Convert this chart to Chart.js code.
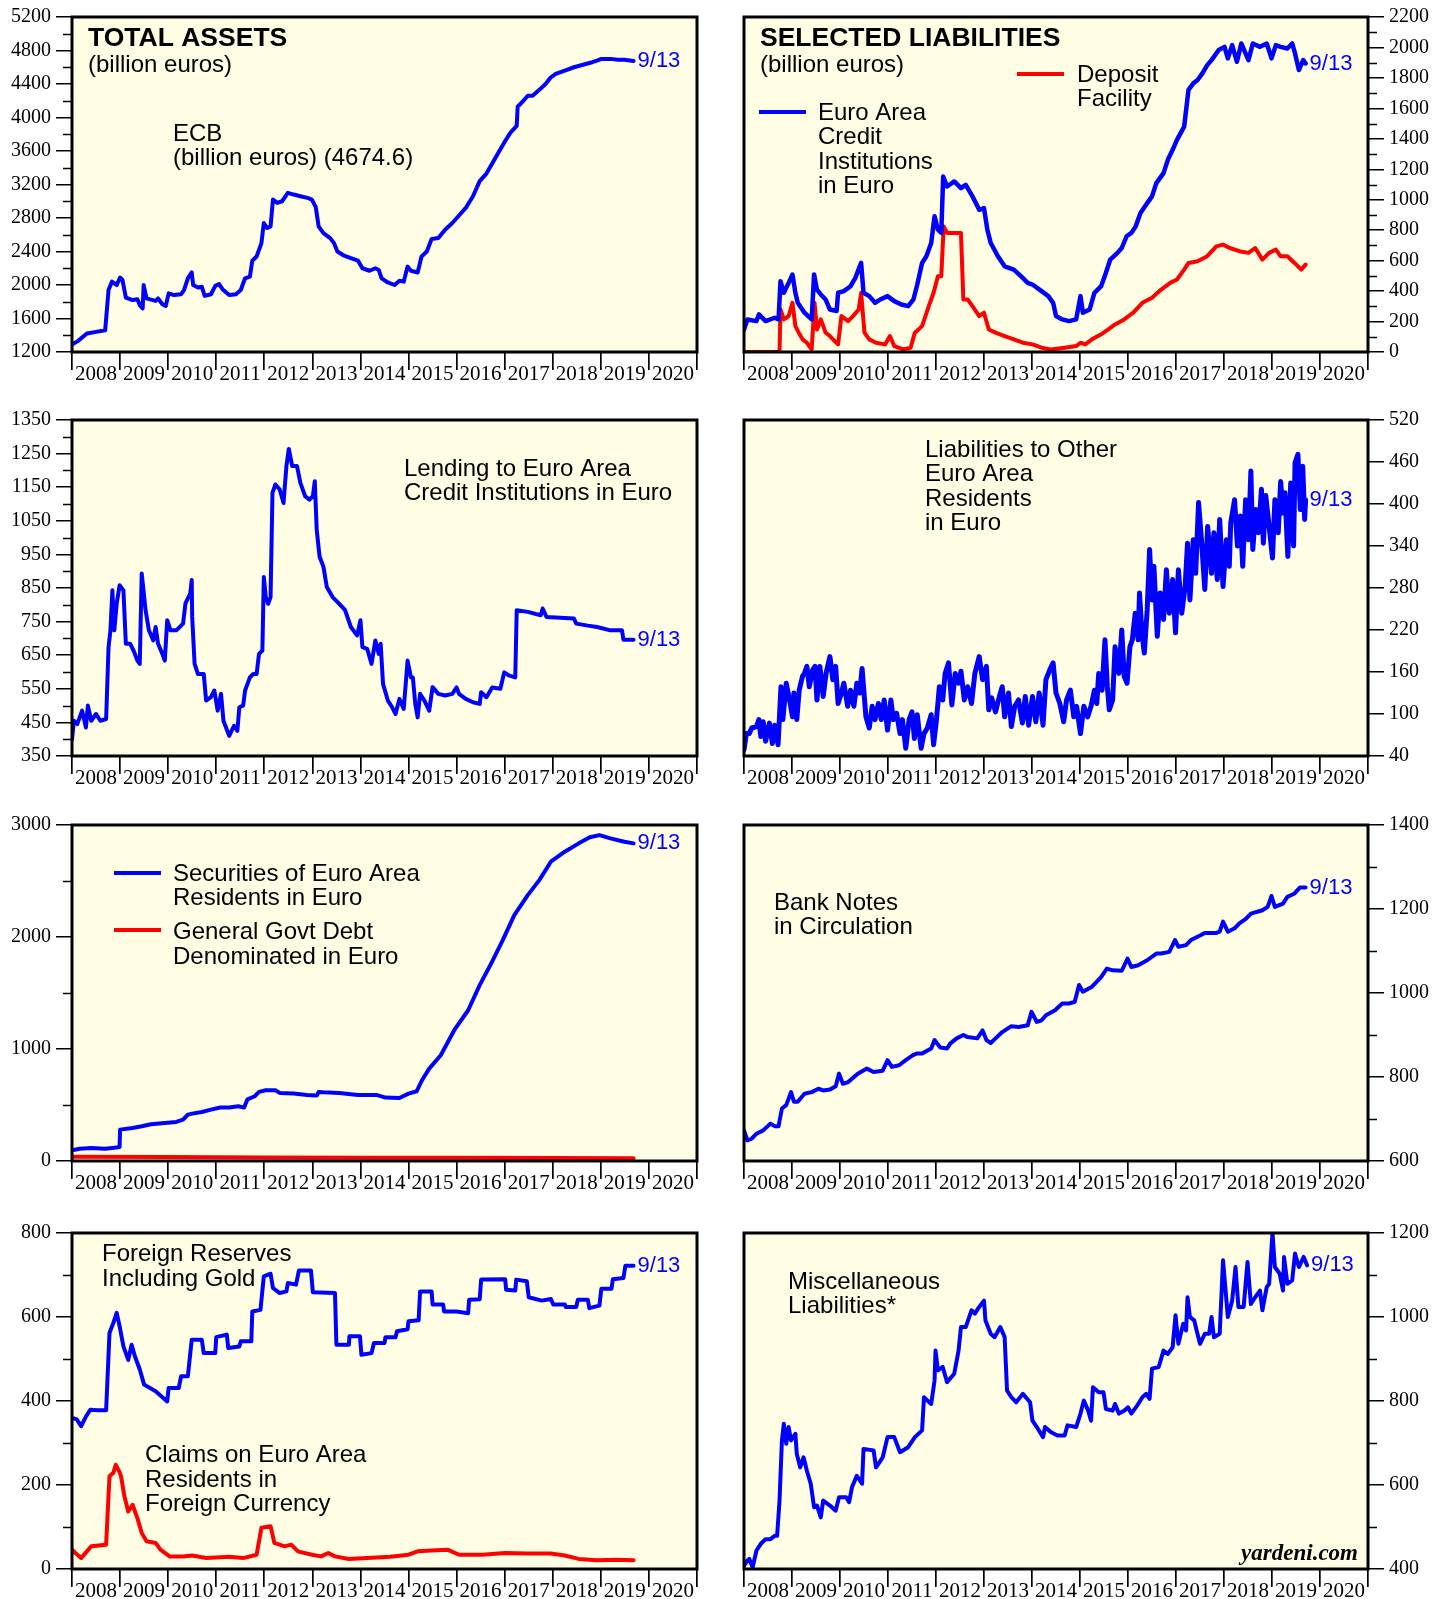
<!DOCTYPE html>
<html><head><meta charset="utf-8">
<script src="https://cdn.jsdelivr.net/npm/chart.js@4.4.1/dist/chart.umd.min.js"></script>
<style>
html,body{margin:0;padding:0;background:#fff;}
body{width:1450px;height:1599px;position:relative;overflow:hidden;}
.w{position:absolute;}
canvas{display:block;}
</style></head><body>
<div class="w" style="left:0;top:0"><canvas id="c1" width="725" height="395"></canvas></div>
<div class="w" style="left:725px;top:0"><canvas id="c2" width="725" height="395"></canvas></div>
<div class="w" style="left:0;top:395px"><canvas id="c3" width="725" height="400"></canvas></div>
<div class="w" style="left:725px;top:395px"><canvas id="c4" width="725" height="400"></canvas></div>
<div class="w" style="left:0;top:795px"><canvas id="c5" width="725" height="405"></canvas></div>
<div class="w" style="left:725px;top:795px"><canvas id="c6" width="725" height="405"></canvas></div>
<div class="w" style="left:0;top:1200px"><canvas id="c7" width="725" height="399"></canvas></div>
<div class="w" style="left:725px;top:1200px"><canvas id="c8" width="725" height="399"></canvas></div>
<script>
// ---------- tick labels ----------
const xTickYears = [2008,2009,2010,2011,2012,2013,2014,2015,2016,2017,2018,2019,2020,2021];
const yearLabels = ['2008','2009','2010','2011','2012','2013','2014','2015','2016','2017','2018','2019','2020'];
const ticksAssets = [1200,1600,2000,2400,2800,3200,3600,4000,4400,4800,5200];
const ticksLiab = [0,200,400,600,800,1000,1200,1400,1600,1800,2000,2200];
const ticksLending = [350,450,550,650,750,850,950,1050,1150,1250,1350];
const ticksOther = [40,100,160,220,280,340,400,460,520];
const ticksSecur = [0,1000,2000,3000];
const ticksNotes = [600,800,1000,1200,1400];
const ticksReserves = [0,200,400,600,800];
const ticksMisc = [400,600,800,1000,1200];
const lastDateLabel = '9/13';

// ---------- series: [decimal year, billion euros] ----------
const totalAssets = [[2008.00,1290],[2008.12,1330],[2008.31,1420],[2008.50,1440],[2008.69,1460],[2008.76,1940],[2008.83,2040],[2008.93,2000],[2009.00,2090],[2009.05,2060],[2009.12,1850],[2009.26,1820],[2009.36,1830],[2009.41,1760],[2009.47,1720],[2009.49,2000],[2009.55,1840],[2009.74,1810],[2009.79,1840],[2009.88,1770],[2009.95,1750],[2010.01,1900],[2010.12,1880],[2010.27,1890],[2010.33,1940],[2010.41,2080],[2010.49,2150],[2010.52,2000],[2010.62,1970],[2010.70,1980],[2010.76,1870],[2010.89,1890],[2010.98,1990],[2011.06,2010],[2011.13,1950],[2011.27,1880],[2011.41,1890],[2011.51,1940],[2011.60,2080],[2011.70,2100],[2011.75,2290],[2011.84,2340],[2011.94,2500],[2011.99,2740],[2012.06,2680],[2012.13,2700],[2012.18,3020],[2012.27,2980],[2012.37,3000],[2012.49,3100],[2012.61,3080],[2012.75,3060],[2012.90,3040],[2012.99,3020],[2013.07,2930],[2013.13,2700],[2013.23,2620],[2013.37,2560],[2013.45,2500],[2013.52,2400],[2013.66,2350],[2013.80,2320],[2013.95,2290],[2014.04,2200],[2014.19,2170],[2014.31,2200],[2014.38,2180],[2014.44,2080],[2014.57,2030],[2014.71,2000],[2014.81,2050],[2014.90,2040],[2014.98,2220],[2015.05,2170],[2015.19,2150],[2015.27,2340],[2015.38,2400],[2015.48,2550],[2015.62,2560],[2015.76,2660],[2015.91,2740],[2016.05,2830],[2016.19,2920],[2016.34,3060],[2016.48,3240],[2016.62,3330],[2016.77,3480],[2016.91,3620],[2017.01,3720],[2017.12,3820],[2017.25,3900],[2017.27,4130],[2017.39,4200],[2017.48,4260],[2017.58,4260],[2017.72,4330],[2017.85,4400],[2017.96,4480],[2018.06,4520],[2018.25,4560],[2018.44,4600],[2018.63,4630],[2018.82,4660],[2018.92,4680],[2019.01,4700],[2019.21,4700],[2019.35,4690],[2019.49,4690],[2019.68,4675]];

const creditInstLiab = [[2008.00,148],[2008.07,214],[2008.26,203],[2008.31,247],[2008.45,203],[2008.64,225],[2008.72,214],[2008.76,465],[2008.83,389],[2008.93,454],[2009.01,509],[2009.07,389],[2009.12,323],[2009.26,258],[2009.41,214],[2009.46,509],[2009.52,410],[2009.60,378],[2009.70,345],[2009.79,279],[2009.93,269],[2009.96,389],[2010.08,400],[2010.22,432],[2010.32,487],[2010.44,585],[2010.49,389],[2010.61,367],[2010.73,323],[2010.84,345],[2010.99,367],[2011.13,334],[2011.28,312],[2011.42,301],[2011.53,345],[2011.61,443],[2011.71,585],[2011.80,629],[2011.90,716],[2011.97,891],[2012.04,803],[2012.11,782],[2012.15,1153],[2012.23,1087],[2012.38,1120],[2012.52,1076],[2012.62,1098],[2012.76,1022],[2012.90,934],[2013.00,945],[2013.07,803],[2013.14,716],[2013.29,629],[2013.43,563],[2013.62,541],[2013.77,498],[2013.91,454],[2014.01,443],[2014.20,400],[2014.34,367],[2014.44,323],[2014.50,236],[2014.63,214],[2014.77,203],[2014.92,214],[2015.01,367],[2015.06,258],[2015.20,279],[2015.30,389],[2015.44,432],[2015.54,520],[2015.63,607],[2015.78,651],[2015.87,683],[2015.97,760],[2016.07,782],[2016.16,825],[2016.26,913],[2016.40,978],[2016.50,1022],[2016.59,1109],[2016.74,1175],[2016.83,1262],[2016.93,1328],[2017.02,1393],[2017.17,1480],[2017.26,1721],[2017.36,1764],[2017.45,1786],[2017.55,1830],[2017.65,1884],[2017.74,1917],[2017.89,1983],[2018.01,2004],[2018.08,1928],[2018.17,2015],[2018.27,1906],[2018.36,2026],[2018.51,1917],[2018.60,2026],[2018.75,2004],[2018.89,2026],[2018.99,1928],[2019.08,2015],[2019.18,2004],[2019.32,1993],[2019.42,2026],[2019.48,1961],[2019.56,1852],[2019.65,1917],[2019.70,1895]];

const depositFacility = [[2008.00,0],[2008.74,0],[2008.76,279],[2008.83,214],[2008.93,236],[2009.01,323],[2009.07,170],[2009.14,127],[2009.22,83],[2009.31,61],[2009.41,17],[2009.47,323],[2009.52,148],[2009.60,214],[2009.70,127],[2009.79,105],[2009.89,72],[2009.96,50],[2010.03,236],[2010.17,203],[2010.27,236],[2010.39,279],[2010.44,389],[2010.51,127],[2010.61,83],[2010.75,61],[2010.94,50],[2011.04,105],[2011.13,39],[2011.32,17],[2011.47,28],[2011.56,127],[2011.71,170],[2011.85,301],[2011.95,389],[2012.04,498],[2012.11,498],[2012.16,825],[2012.23,782],[2012.38,782],[2012.52,782],[2012.57,345],[2012.66,345],[2012.76,301],[2012.90,236],[2013.00,258],[2013.10,148],[2013.24,127],[2013.43,105],[2013.62,83],[2013.81,61],[2014.01,50],[2014.20,28],[2014.39,17],[2014.68,28],[2014.92,39],[2015.01,61],[2015.11,50],[2015.25,83],[2015.44,116],[2015.59,148],[2015.73,181],[2015.92,214],[2016.11,258],[2016.30,323],[2016.50,356],[2016.69,410],[2016.88,454],[2017.02,476],[2017.17,541],[2017.26,585],[2017.45,596],[2017.65,629],[2017.84,694],[2017.98,705],[2018.12,683],[2018.32,662],[2018.51,651],[2018.65,683],[2018.80,607],[2018.94,651],[2019.08,672],[2019.18,629],[2019.32,629],[2019.47,585],[2019.61,541],[2019.70,574]];

const lendingCredit = [[2008.00,400],[2008.04,455],[2008.11,445],[2008.21,485],[2008.29,435],[2008.33,500],[2008.40,455],[2008.50,475],[2008.59,455],[2008.71,460],[2008.76,674],[2008.80,724],[2008.84,843],[2008.88,724],[2008.93,804],[2008.99,858],[2009.07,843],[2009.12,684],[2009.21,684],[2009.28,664],[2009.36,634],[2009.41,624],[2009.45,893],[2009.53,784],[2009.60,724],[2009.69,694],[2009.74,734],[2009.79,684],[2009.88,654],[2009.93,634],[2009.98,754],[2010.05,724],[2010.17,724],[2010.31,744],[2010.36,804],[2010.46,834],[2010.49,874],[2010.50,764],[2010.55,624],[2010.62,594],[2010.74,594],[2010.79,515],[2010.89,525],[2010.96,545],[2011.03,485],[2011.10,535],[2011.15,455],[2011.27,410],[2011.37,440],[2011.44,425],[2011.48,495],[2011.56,500],[2011.60,545],[2011.70,584],[2011.77,594],[2011.84,594],[2011.89,654],[2011.96,664],[2011.99,883],[2012.03,823],[2012.08,803],[2012.13,823],[2012.17,1133],[2012.23,1158],[2012.32,1143],[2012.40,1103],[2012.46,1213],[2012.51,1264],[2012.58,1213],[2012.68,1213],[2012.75,1163],[2012.85,1123],[2012.94,1113],[2013.01,1123],[2013.05,1168],[2013.09,1023],[2013.15,943],[2013.23,913],[2013.30,853],[2013.42,823],[2013.56,803],[2013.68,784],[2013.80,734],[2013.93,709],[2014.00,754],[2014.04,674],[2014.14,669],[2014.23,624],[2014.31,694],[2014.38,654],[2014.42,684],[2014.47,564],[2014.57,515],[2014.66,495],[2014.73,475],[2014.81,520],[2014.90,490],[2014.98,634],[2015.05,584],[2015.09,584],[2015.14,505],[2015.19,465],[2015.24,535],[2015.33,515],[2015.43,485],[2015.50,555],[2015.62,535],[2015.76,530],[2015.91,535],[2016.00,554],[2016.05,535],[2016.19,520],[2016.34,510],[2016.48,505],[2016.51,540],[2016.62,525],[2016.74,554],[2016.91,550],[2016.99,599],[2017.10,589],[2017.22,584],[2017.25,784],[2017.48,779],[2017.75,769],[2017.79,789],[2017.87,764],[2018.06,762],[2018.44,759],[2018.49,744],[2018.73,738],[2018.92,734],[2019.20,724],[2019.44,724],[2019.47,696],[2019.68,696]];

const otherResidents = [[2008.00,49],[2008.05,72],[2008.11,72],[2008.16,80],[2008.26,82],[2008.31,92],[2008.35,68],[2008.40,89],[2008.45,61],[2008.53,87],[2008.59,58],[2008.64,84],[2008.71,56],[2008.77,139],[2008.81,92],[2008.88,144],[2008.95,120],[2009.01,96],[2009.04,130],[2009.10,92],[2009.15,134],[2009.22,154],[2009.26,158],[2009.31,168],[2009.36,139],[2009.43,163],[2009.48,168],[2009.52,120],[2009.58,168],[2009.65,125],[2009.71,158],[2009.79,182],[2009.85,149],[2009.91,168],[2009.96,115],[2010.03,130],[2010.08,144],[2010.16,111],[2010.22,134],[2010.29,111],[2010.35,144],[2010.41,130],[2010.46,165],[2010.54,96],[2010.61,80],[2010.67,111],[2010.73,92],[2010.80,115],[2010.86,92],[2010.92,120],[2010.99,77],[2011.06,120],[2011.11,92],[2011.18,101],[2011.25,72],[2011.30,92],[2011.37,51],[2011.44,92],[2011.50,103],[2011.55,65],[2011.61,99],[2011.69,51],[2011.75,72],[2011.82,80],[2011.90,99],[2011.95,56],[2012.01,92],[2012.07,139],[2012.14,120],[2012.19,158],[2012.26,173],[2012.33,113],[2012.40,158],[2012.47,144],[2012.52,161],[2012.59,120],[2012.66,139],[2012.74,115],[2012.81,158],[2012.90,182],[2012.97,149],[2013.05,168],[2013.10,106],[2013.16,123],[2013.24,103],[2013.32,125],[2013.38,139],[2013.43,96],[2013.51,130],[2013.57,82],[2013.64,111],[2013.72,120],[2013.80,87],[2013.86,125],[2013.93,84],[2014.01,125],[2014.08,89],[2014.15,130],[2014.23,84],[2014.29,149],[2014.37,163],[2014.44,173],[2014.50,130],[2014.58,115],[2014.66,89],[2014.72,120],[2014.80,134],[2014.87,96],[2014.93,111],[2015.01,72],[2015.08,111],[2015.16,96],[2015.23,111],[2015.30,134],[2015.35,115],[2015.39,158],[2015.46,134],[2015.52,206],[2015.57,139],[2015.61,106],[2015.68,120],[2015.73,196],[2015.81,158],[2015.87,220],[2015.92,154],[2015.98,144],[2016.04,196],[2016.09,206],[2016.15,244],[2016.21,206],[2016.24,273],[2016.29,216],[2016.34,187],[2016.40,249],[2016.45,335],[2016.50,263],[2016.54,311],[2016.61,211],[2016.67,273],[2016.74,235],[2016.80,306],[2016.86,244],[2016.93,292],[2016.99,216],[2017.05,306],[2017.12,244],[2017.19,282],[2017.24,344],[2017.29,263],[2017.36,349],[2017.41,301],[2017.47,402],[2017.53,349],[2017.60,278],[2017.66,368],[2017.74,301],[2017.79,359],[2017.86,292],[2017.91,378],[2017.98,282],[2018.05,349],[2018.11,311],[2018.14,373],[2018.22,406],[2018.28,340],[2018.34,383],[2018.39,311],[2018.45,406],[2018.51,349],[2018.56,447],[2018.60,335],[2018.66,392],[2018.72,359],[2018.78,421],[2018.82,344],[2018.87,412],[2018.94,368],[2019.01,323],[2019.06,406],[2019.13,359],[2019.18,432],[2019.23,387],[2019.27,416],[2019.33,325],[2019.39,430],[2019.45,340],[2019.48,459],[2019.54,471],[2019.59,392],[2019.64,454],[2019.68,378],[2019.70,406]];

const securitiesEuro = [[2008.00,95],[2008.16,110],[2008.40,116],[2008.69,110],[2008.88,119],[2008.99,125],[2009.00,280],[2009.26,295],[2009.45,310],[2009.64,328],[2009.93,340],[2010.17,349],[2010.31,369],[2010.41,414],[2010.50,423],[2010.70,438],[2010.89,459],[2011.08,477],[2011.27,477],[2011.46,489],[2011.58,477],[2011.65,551],[2011.80,578],[2011.89,617],[2012.03,632],[2012.23,632],[2012.32,608],[2012.61,602],[2012.89,590],[2013.09,584],[2013.13,617],[2013.23,614],[2013.56,608],[2013.95,590],[2014.33,590],[2014.52,566],[2014.81,563],[2015.00,602],[2015.17,623],[2015.28,721],[2015.43,825],[2015.67,944],[2015.95,1168],[2016.24,1346],[2016.48,1570],[2016.72,1764],[2016.96,1972],[2017.20,2196],[2017.48,2374],[2017.72,2508],[2017.96,2672],[2018.25,2762],[2018.54,2836],[2018.77,2890],[2018.97,2910],[2019.20,2881],[2019.49,2851],[2019.68,2836]];

const govtDebt = [[2008.00,38],[2010.00,35],[2012.00,32],[2014.00,30],[2016.00,28],[2018.00,26],[2019.68,25]];

const bankNotes = [[2008.00,673],[2008.07,649],[2008.16,653],[2008.26,665],[2008.40,673],[2008.55,689],[2008.64,683],[2008.72,683],[2008.79,725],[2008.88,733],[2008.98,764],[2009.04,741],[2009.12,741],[2009.26,760],[2009.41,764],[2009.55,772],[2009.65,768],[2009.79,770],[2009.91,778],[2009.98,808],[2010.06,784],[2010.17,788],[2010.37,808],[2010.56,820],[2010.70,812],[2010.89,815],[2010.99,840],[2011.08,824],[2011.23,828],[2011.37,840],[2011.52,852],[2011.61,856],[2011.71,856],[2011.90,868],[2011.97,888],[2012.09,870],[2012.23,868],[2012.30,880],[2012.43,892],[2012.57,900],[2012.66,895],[2012.86,892],[2012.97,911],[2013.05,888],[2013.14,881],[2013.24,892],[2013.38,907],[2013.57,921],[2013.72,919],[2013.91,923],[2013.99,955],[2014.10,931],[2014.20,935],[2014.29,947],[2014.48,959],[2014.63,975],[2014.77,975],[2014.89,979],[2014.98,1019],[2015.06,1003],[2015.25,1015],[2015.35,1027],[2015.44,1038],[2015.56,1058],[2015.68,1054],[2015.87,1053],[2015.99,1082],[2016.07,1062],[2016.21,1066],[2016.40,1078],[2016.59,1094],[2016.69,1094],[2016.86,1098],[2016.98,1126],[2017.05,1110],[2017.21,1114],[2017.31,1126],[2017.45,1134],[2017.60,1143],[2017.84,1143],[2017.91,1146],[2017.98,1170],[2018.08,1146],[2018.22,1154],[2018.32,1166],[2018.46,1177],[2018.56,1189],[2018.80,1197],[2018.91,1205],[2018.99,1231],[2019.06,1205],[2019.23,1213],[2019.32,1229],[2019.47,1237],[2019.58,1251],[2019.70,1251]];

const foreignReserves = [[2008.00,360],[2008.10,356],[2008.19,340],[2008.29,363],[2008.38,379],[2008.54,378],[2008.71,378],[2008.78,562],[2008.86,586],[2008.93,610],[2008.99,578],[2009.07,530],[2009.17,498],[2009.24,534],[2009.31,506],[2009.41,475],[2009.50,439],[2009.74,423],[2009.98,399],[2010.01,431],[2010.22,431],[2010.27,459],[2010.41,459],[2010.49,546],[2010.70,546],[2010.74,514],[2010.98,514],[2011.00,552],[2011.22,558],[2011.25,526],[2011.48,530],[2011.51,542],[2011.73,542],[2011.75,613],[2011.92,617],[2011.99,697],[2012.13,703],[2012.18,669],[2012.32,657],[2012.46,661],[2012.49,681],[2012.66,677],[2012.72,711],[2012.97,711],[2013.01,659],[2013.47,657],[2013.50,534],[2013.76,534],[2013.77,554],[2013.99,554],[2014.02,510],[2014.23,514],[2014.28,538],[2014.50,538],[2014.52,552],[2014.73,552],[2014.76,566],[2014.98,571],[2015.00,590],[2015.21,592],[2015.24,661],[2015.48,661],[2015.50,630],[2015.72,630],[2015.74,613],[2016.00,613],[2016.24,609],[2016.26,641],[2016.48,642],[2016.51,689],[2017.01,690],[2017.03,665],[2017.22,663],[2017.24,689],[2017.46,685],[2017.50,647],[2017.77,639],[2017.96,643],[2018.01,630],[2018.25,630],[2018.27,624],[2018.49,624],[2018.52,641],[2018.73,641],[2018.76,621],[2018.97,627],[2019.01,667],[2019.22,667],[2019.25,690],[2019.47,693],[2019.51,722],[2019.68,722]];

const claimsForeignCcy = [[2008.00,46],[2008.07,38],[2008.19,26],[2008.31,42],[2008.40,54],[2008.71,58],[2008.78,221],[2008.86,229],[2008.91,248],[2008.98,233],[2009.02,221],[2009.09,173],[2009.17,137],[2009.26,153],[2009.36,121],[2009.45,86],[2009.55,66],[2009.74,62],[2009.84,46],[2010.03,30],[2010.31,30],[2010.50,32],[2010.79,26],[2011.27,29],[2011.56,26],[2011.84,34],[2011.94,98],[2012.13,102],[2012.21,62],[2012.42,54],[2012.56,58],[2012.70,42],[2012.99,34],[2013.18,30],[2013.33,38],[2013.47,30],[2013.76,24],[2014.14,26],[2014.62,29],[2015.00,34],[2015.19,42],[2015.48,44],[2015.81,46],[2016.05,34],[2016.53,34],[2017.01,38],[2017.48,37],[2017.96,37],[2018.25,32],[2018.54,24],[2018.92,21],[2019.30,22],[2019.68,21]];

const miscLiab = [[2008.00,408],[2008.07,420],[2008.11,424],[2008.18,404],[2008.26,444],[2008.35,460],[2008.45,471],[2008.55,471],[2008.64,479],[2008.69,479],[2008.74,563],[2008.79,706],[2008.83,746],[2008.88,698],[2008.93,738],[2008.98,706],[2009.07,722],[2009.10,674],[2009.17,642],[2009.24,666],[2009.31,634],[2009.39,603],[2009.46,547],[2009.52,551],[2009.60,523],[2009.65,563],[2009.79,551],[2009.91,539],[2009.98,571],[2010.13,571],[2010.19,559],[2010.25,595],[2010.35,622],[2010.46,603],[2010.49,686],[2010.70,682],[2010.75,642],[2010.89,666],[2010.99,714],[2011.13,714],[2011.25,678],[2011.42,690],[2011.56,714],[2011.71,730],[2011.75,809],[2011.82,801],[2011.90,793],[2011.97,849],[2011.99,920],[2012.04,873],[2012.14,881],[2012.23,845],[2012.38,865],[2012.47,920],[2012.52,976],[2012.62,976],[2012.74,1016],[2012.81,1008],[2012.90,1024],[2013.00,1039],[2013.03,992],[2013.14,960],[2013.22,952],[2013.34,976],[2013.43,952],[2013.48,825],[2013.57,809],[2013.67,797],[2013.81,817],[2013.96,797],[2014.01,753],[2014.10,738],[2014.23,714],[2014.27,738],[2014.39,726],[2014.53,718],[2014.68,718],[2014.74,742],[2014.92,738],[2015.01,770],[2015.08,801],[2015.17,777],[2015.23,753],[2015.27,833],[2015.39,821],[2015.49,821],[2015.54,781],[2015.68,777],[2015.73,793],[2015.81,770],[2015.92,777],[2016.00,785],[2016.07,770],[2016.19,789],[2016.30,809],[2016.38,817],[2016.45,805],[2016.50,877],[2016.64,881],[2016.74,920],[2016.83,912],[2016.93,928],[2016.99,1004],[2017.05,936],[2017.15,984],[2017.21,968],[2017.24,1047],[2017.29,1000],[2017.38,992],[2017.43,968],[2017.50,936],[2017.60,960],[2017.69,960],[2017.74,1000],[2017.79,952],[2017.91,960],[2017.98,1135],[2018.08,1000],[2018.17,1039],[2018.24,1119],[2018.30,1024],[2018.41,1024],[2018.49,1131],[2018.56,1031],[2018.65,1047],[2018.75,1063],[2018.80,1016],[2018.89,1071],[2018.94,1079],[2019.01,1200],[2019.06,1119],[2019.16,1103],[2019.23,1063],[2019.25,1143],[2019.32,1079],[2019.42,1087],[2019.48,1151],[2019.56,1119],[2019.66,1143],[2019.73,1123]];

// ---------- drawing ----------
const BLUE = '#0000FF', RED = '#FF0000';
const SANS = '"Liberation Sans", Arial, sans-serif';
const SERIF = '"Liberation Serif", "Times New Roman", serif';
Chart.defaults.color = '#000';

const panelPlugin = {
  id: 'panel',
  beforeDraw(chart) {
    const {ctx, chartArea: a} = chart;
    ctx.save();
    ctx.fillStyle = '#FFFDE4';
    ctx.fillRect(a.left, a.top, a.right - a.left, a.bottom - a.top);
    ctx.restore();
  },
  afterDraw(chart) {
    const o = chart.options.plugins.panel;
    const {ctx, chartArea: a} = chart;
    const ys = chart.scales.y, xs = chart.scales.x;
    ctx.save();
    if (o.minor) {
      ctx.strokeStyle = '#000'; ctx.lineWidth = 1.5;
      const t = ys.ticks.map(k => k.value);
      for (let i = 0; i < t.length - 1; i++) {
        const py = Math.round(ys.getPixelForValue((t[i] + t[i + 1]) / 2)) + 0.5;
        ctx.beginPath();
        if (o.side === 'left') { ctx.moveTo(a.left - 9, py); ctx.lineTo(a.left, py); }
        else { ctx.moveTo(a.right, py); ctx.lineTo(a.right + 9, py); }
        ctx.stroke();
      }
    }
    ctx.strokeStyle = '#000'; ctx.lineWidth = 3;
    ctx.strokeRect(a.left, a.top, a.right - a.left, a.bottom - a.top);
    (o.legend || []).forEach(l => {
      ctx.strokeStyle = l.color; ctx.lineWidth = 4;
      ctx.beginPath(); ctx.moveTo(l.x1 - o.ox, l.y - o.oy); ctx.lineTo(l.x2 - o.ox, l.y - o.oy); ctx.stroke();
    });
    (o.texts || []).forEach(t => {
      ctx.font = t.font || ('24px ' + SANS);
      ctx.fillStyle = t.color || '#000';
      ctx.textAlign = t.align || 'left';
      ctx.textBaseline = 'alphabetic';
      ctx.fillText(t.text, t.x - o.ox, t.y - o.oy);
    });
    const d = chart.data.datasets[0].data;
    const last = d[d.length - 1];
    ctx.font = '22px ' + SANS; ctx.fillStyle = BLUE; ctx.textAlign = 'left'; ctx.textBaseline = 'middle';
    ctx.fillText(lastDateLabel, xs.getPixelForValue(last.x) + 4, ys.getPixelForValue(last.y));
    ctx.restore();
  }
};

function makeChart(id, cfg) {
  const left = cfg.side === 'left';
  const datasets = cfg.series.map(s => ({
    data: s.data.map(p => ({x: p[0], y: p[1]})),
    borderColor: s.color, borderWidth: s.width || 4, pointRadius: 0, tension: 0, fill: false,
    borderJoinStyle: 'round', borderCapStyle: 'round'
  }));
  return new Chart(document.getElementById(id), {
    type: 'line',
    data: {datasets},
    options: {
      responsive: false, animation: false, devicePixelRatio: 1,
      events: [],
      layout: {autoPadding: false, padding: {left: left ? 0 : 19, right: left ? 28 : 0, top: cfg.top, bottom: 0}},
      plugins: {
        legend: {display: false}, tooltip: {enabled: false},
        panel: {side: cfg.side, minor: cfg.minor, texts: cfg.texts, legend: cfg.legend, ox: cfg.ox, oy: cfg.oy}
      },
      scales: {
        x: {
          type: 'linear', min: 2008, max: 2021, position: 'bottom',
          afterBuildTicks: sc => { sc.ticks = xTickYears.map(v => ({value: v})); },
          afterFit: sc => { sc.height = cfg.xh; },
          ticks: {
            callback: v => yearLabels[v - 2008] || '',
            labelOffset: 24, padding: -8, autoSkip: false, maxRotation: 0, minRotation: 0,
            font: {family: SERIF, size: 21}, color: '#000'
          },
          grid: {drawOnChartArea: false, drawTicks: true, tickLength: 18, color: '#000', lineWidth: 1.7},
          border: {display: false}
        },
        y: {
          type: 'linear', position: cfg.side, min: cfg.yTicks[0], max: cfg.yTicks[cfg.yTicks.length - 1],
          afterBuildTicks: sc => { sc.ticks = cfg.yTicks.map(v => ({value: v})); },
          afterFit: sc => { sc.width = left ? 72 : 82; },
          ticks: {callback: v => String(v), padding: 5, font: {family: SERIF, size: 20}, color: '#000', autoSkip: false},
          grid: {drawOnChartArea: false, drawTicks: true, tickLength: 16, color: '#000', lineWidth: 1.5},
          border: {display: false}
        }
      }
    },
    plugins: [panelPlugin]
  });
}

const FB = s => 'bold ' + s + 'px ' + SANS;

makeChart('c1', {side: 'left', top: 16, xh: 43, ox: 0, oy: 0, minor: true, yTicks: ticksAssets,
  series: [{data: totalAssets, color: BLUE}],
  texts: [
    {text: 'TOTAL ASSETS', x: 88, y: 46, font: FB(26.5)},
    {text: '(billion euros)', x: 88, y: 72},
    {text: 'ECB', x: 173, y: 141},
    {text: '(billion euros) (4674.6)', x: 173, y: 165}
  ]});

makeChart('c2', {side: 'right', top: 16, xh: 43, ox: 725, oy: 0, minor: true, yTicks: ticksLiab,
  series: [{data: creditInstLiab, color: BLUE, width: 4.5}, {data: depositFacility, color: RED}],
  legend: [{x1: 1017, x2: 1064, y: 74, color: RED}, {x1: 759, x2: 806, y: 112, color: BLUE}],
  texts: [
    {text: 'SELECTED LIABILITIES', x: 760, y: 46, font: FB(26.5)},
    {text: '(billion euros)', x: 760, y: 72},
    {text: 'Deposit', x: 1077, y: 82},
    {text: 'Facility', x: 1077, y: 106},
    {text: 'Euro Area', x: 818, y: 120},
    {text: 'Credit', x: 818, y: 144},
    {text: 'Institutions', x: 818, y: 169},
    {text: 'in Euro', x: 818, y: 193}
  ]});

makeChart('c3', {side: 'left', top: 25, xh: 39, ox: 0, oy: 395, minor: true, yTicks: ticksLending,
  series: [{data: lendingCredit, color: BLUE}],
  texts: [
    {text: 'Lending to Euro Area', x: 404, y: 476},
    {text: 'Credit Institutions in Euro', x: 404, y: 500}
  ]});

makeChart('c4', {side: 'right', top: 25, xh: 39, ox: 725, oy: 395, minor: false, yTicks: ticksOther,
  series: [{data: otherResidents, color: BLUE, width: 5}],
  texts: [
    {text: 'Liabilities to Other', x: 925, y: 457},
    {text: 'Euro Area', x: 925, y: 481},
    {text: 'Residents', x: 925, y: 506},
    {text: 'in Euro', x: 925, y: 530}
  ]});

makeChart('c5', {side: 'left', top: 30, xh: 39, ox: 0, oy: 795, minor: true, yTicks: ticksSecur,
  series: [{data: securitiesEuro, color: BLUE}, {data: govtDebt, color: RED}],
  legend: [{x1: 114, x2: 161, y: 873, color: BLUE}, {x1: 114, x2: 161, y: 930, color: RED}],
  texts: [
    {text: 'Securities of Euro Area', x: 173, y: 881},
    {text: 'Residents in Euro', x: 173, y: 905},
    {text: 'General Govt Debt', x: 173, y: 939},
    {text: 'Denominated in Euro', x: 173, y: 964}
  ]});

makeChart('c6', {side: 'right', top: 30, xh: 39, ox: 725, oy: 795, minor: true, yTicks: ticksNotes,
  series: [{data: bankNotes, color: BLUE}],
  texts: [
    {text: 'Bank Notes', x: 774, y: 910},
    {text: 'in Circulation', x: 774, y: 934}
  ]});

makeChart('c7', {side: 'left', top: 33, xh: 30, ox: 0, oy: 1200, minor: true, yTicks: ticksReserves,
  series: [{data: foreignReserves, color: BLUE}, {data: claimsForeignCcy, color: RED}],
  texts: [
    {text: 'Foreign Reserves', x: 102, y: 1261},
    {text: 'Including Gold', x: 102, y: 1286},
    {text: 'Claims on Euro Area', x: 145, y: 1462},
    {text: 'Residents in', x: 145, y: 1487},
    {text: 'Foreign Currency', x: 145, y: 1511}
  ]});

makeChart('c8', {side: 'right', top: 33, xh: 30, ox: 725, oy: 1200, minor: true, yTicks: ticksMisc,
  series: [{data: miscLiab, color: BLUE}],
  texts: [
    {text: 'Miscellaneous', x: 788, y: 1289},
    {text: 'Liabilities*', x: 788, y: 1313},
    {text: 'yardeni.com', x: 1358, y: 1560, align: 'right', font: 'bold italic 23px ' + SERIF}
  ]});
</script>
</body></html>
